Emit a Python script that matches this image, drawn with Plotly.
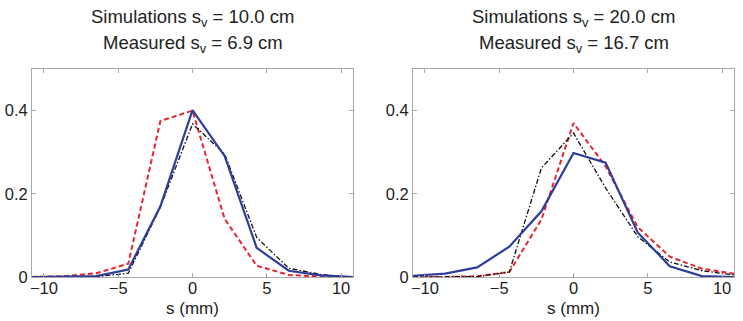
import plotly.graph_objects as go

s_mm = [-10.8, -8.64, -6.48, -4.32, -2.16, 0.0, 2.16, 4.32, 6.48, 8.64, 10.8]

# Left panel: Simulations s_v = 10.0 cm / Measured s_v = 6.9 cm
left_blue = [0.0, 0.001, 0.002, 0.018, 0.170, 0.401, 0.291, 0.070, 0.015, 0.004, 0.0]
left_black = [0.0, 0.0, 0.001, 0.009, 0.168, 0.368, 0.296, 0.095, 0.021, 0.006, 0.0]
left_red = [0.0, 0.002, 0.009, 0.032, 0.375, 0.400, 0.140, 0.027, 0.005, 0.001, 0.0]

# Right panel: Simulations s_v = 20.0 cm / Measured s_v = 16.7 cm
right_blue = [0.003, 0.008, 0.023, 0.073, 0.158, 0.298, 0.275, 0.107, 0.026, 0.002, 0.0]
right_black = [0.0, 0.0, 0.001, 0.012, 0.262, 0.346, 0.214, 0.097, 0.036, 0.015, 0.005]
right_red = [0.0, 0.0, 0.002, 0.012, 0.138, 0.370, 0.266, 0.120, 0.049, 0.020, 0.008]

title_line1 = ["Simulations s<sub>v</sub> = 10.0 cm", "Simulations s<sub>v</sub> = 20.0 cm"]
title_line2 = ["Measured s<sub>v</sub> = 6.9 cm", "Measured s<sub>v</sub> = 16.7 cm"]
x_ticks = [-10, -5, 0, 5, 10]
y_ticks = [0, 0.2, 0.4]
y_tick_labels = ["0", "0.2", "0.4"]
x_title = "s (mm)"

W, H = 743, 321
BLUE = "#2e3d9a"
RED = "#e8242c"
BLACK = "#111111"
AXC = "#a8a8a8"
TXT = "#222222"
FONT = "Liberation Sans, Arial, sans-serif"

fig = go.Figure()

panels = [(left_blue, left_black, left_red), (right_blue, right_black, right_red)]
for i, (b, k, r) in enumerate(panels):
    xa = "x" if i == 0 else "x2"
    ya = "y" if i == 0 else "y2"
    fig.add_trace(go.Scatter(x=s_mm, y=r, mode="lines", xaxis=xa, yaxis=ya,
                             line=dict(color=RED, width=2, dash="5px,3px"), showlegend=False))
    fig.add_trace(go.Scatter(x=s_mm, y=k, mode="lines", xaxis=xa, yaxis=ya,
                             line=dict(color=BLACK, width=1.3, dash="5px,2px,1.5px,2px"), showlegend=False))
    fig.add_trace(go.Scatter(x=s_mm, y=b, mode="lines", xaxis=xa, yaxis=ya,
                             line=dict(color=BLUE, width=2.2), showlegend=False))

def px_x(p):
    return p / W

def px_y(p):
    return 1 - p / H

ydom = [px_y(277), px_y(69)]
xdoms = [[px_x(32), px_x(353)], [px_x(413), px_x(734)]]

common_x = dict(range=[-10.8, 10.8], tickvals=x_ticks, ticks="inside", ticklen=4,
                tickcolor=AXC, showline=True, linecolor=AXC, linewidth=1, mirror="ticks",
                showgrid=False, zeroline=False, automargin=False, ticklabelstandoff=-4,
                tickfont=dict(family=FONT, size=16.5, color=TXT))
common_y = dict(range=[0, 0.5], tickvals=y_ticks, ticktext=y_tick_labels, ticks="inside",
                ticklen=4, tickcolor=AXC, showline=True, linecolor=AXC, linewidth=1,
                mirror="ticks", showgrid=False, zeroline=False, automargin=False,
                tickfont=dict(family=FONT, size=16.5, color=TXT))

fig.update_layout(
    width=W, height=H,
    margin=dict(l=0, r=0, t=0, b=0),
    paper_bgcolor="white", plot_bgcolor="white",
    xaxis=dict(domain=xdoms[0], anchor="y", **common_x),
    yaxis=dict(domain=ydom, anchor="x", **common_y),
    xaxis2=dict(domain=xdoms[1], anchor="y2", **common_x),
    yaxis2=dict(domain=ydom, anchor="x2", **common_y),
)

for i in range(2):
    cx = (xdoms[i][0] + xdoms[i][1]) / 2
    for txt, yc in ((title_line1[i], 18), (title_line2[i], 44)):
        fig.add_annotation(text=txt, x=cx, y=px_y(yc), xref="paper", yref="paper",
                           xanchor="center", yanchor="middle", showarrow=False,
                           font=dict(family=FONT, size=18.5, color=TXT))
    fig.add_annotation(text=x_title, x=cx, y=px_y(308), xref="paper", yref="paper",
                       xanchor="center", yanchor="middle", showarrow=False,
                       font=dict(family=FONT, size=17, color=TXT))

fig.write_html("out.html", config={"displayModeBar": False},
               post_script="document.body.style.margin='0';")
